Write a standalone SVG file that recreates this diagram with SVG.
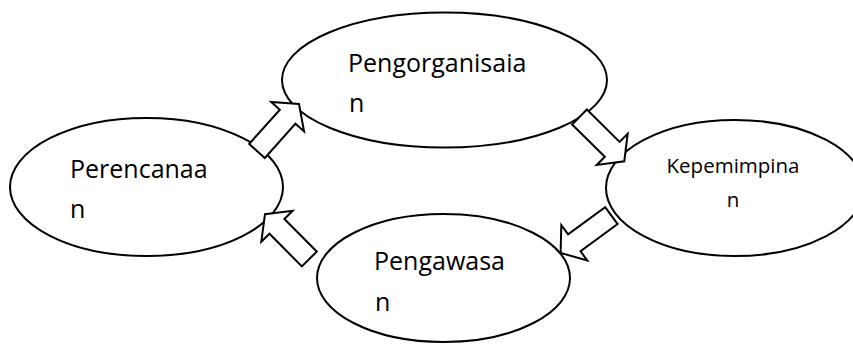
<svg xmlns="http://www.w3.org/2000/svg" width="853" height="345" viewBox="0 0 853 345">
  <style>
    .node { fill: #ffffff; stroke: #000000; stroke-width: 2; }
    .lbl { font-family: "Open Sans", "Noto Sans", "Liberation Sans", sans-serif; font-size: 25px; fill: #000000; }
    .lbl-sm { font-family: "Open Sans", "Noto Sans", "Liberation Sans", sans-serif; font-size: 20.5px; fill: #000000; text-anchor: middle; }
    .arrow { fill: #ffffff; stroke: #000000; stroke-width: 2; stroke-linejoin: miter; }
  </style>
  <defs>
    <polygon id="blockArrow" points="0,-10.5 46,-10.5 46,-22 63,0 46,22 46,10.5 0,10.5"/>
  </defs>
  <rect width="853" height="345" fill="#ffffff"/>

  <g id="perencanaan">
    <ellipse class="node" cx="146.5" cy="187" rx="136.5" ry="69"/>
    <text class="lbl" x="70" y="178">Perencanaa</text>
    <text class="lbl" x="70" y="218">n</text>
  </g>

  <g id="pengorganisaian">
    <ellipse class="node" cx="444.5" cy="80" rx="162.5" ry="67.5"/>
    <text class="lbl" x="348" y="72">Pengorganisaia</text>
    <text class="lbl" x="349" y="112">n</text>
  </g>

  <g id="kepemimpinan">
    <ellipse class="node" cx="735" cy="188" rx="129" ry="68"/>
    <text class="lbl-sm" x="733" y="173">Kepemimpina</text>
    <text class="lbl-sm" x="733" y="207">n</text>
  </g>

  <g id="pengawasan">
    <ellipse class="node" cx="443.5" cy="278" rx="126.5" ry="64"/>
    <text class="lbl" x="374" y="270">Pengawasa</text>
    <text class="lbl" x="375" y="311">n</text>
  </g>

  <g id="connectors">
    <use href="#blockArrow" class="arrow" transform="translate(257,151) rotate(-48.2)"/>
    <use href="#blockArrow" class="arrow" transform="translate(579.5,117) rotate(44.7)"/>
    <use href="#blockArrow" class="arrow" transform="translate(611.4,215.6) rotate(143.7)"/>
    <use href="#blockArrow" class="arrow" transform="translate(309.3,259) rotate(-134.7)"/>
  </g>
</svg>
